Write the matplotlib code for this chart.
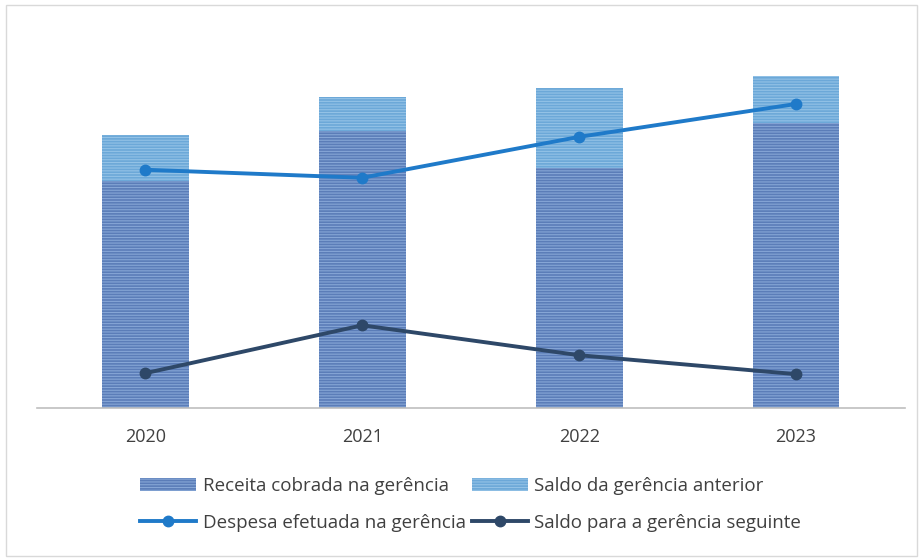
import matplotlib
matplotlib.use("Agg")
import matplotlib.pyplot as plt
import numpy as np
from matplotlib.patches import Rectangle

plt.rcParams['font.family'] = ['Open Sans', 'DejaVu Sans']
plt.rcParams['hatch.linewidth'] = 0.8

years = ["2020", "2021", "2022", "2023"]
receita = [228, 278, 241, 286]
saldo_anterior = [46, 34, 80, 47]
despesa = [239, 231, 272, 305]
saldo_seguinte = [35, 83, 53, 34]

c_receita = "#5B7DB8"
c_anterior = "#6CA8D8"
c_despesa = "#1F7AC9"
c_seguinte = "#2E4868"

fig = plt.figure(figsize=(9.23, 5.59), dpi=100)
ax = fig.add_axes([0.040, 0.270, 0.940, 0.660])
x = np.arange(len(years))
w = 0.40
b1 = ax.bar(x, receita, width=w, color=c_receita, edgecolor="#86A6D6", hatch="------", linewidth=0,
            label="Receita cobrada na gerência", zorder=2)
b2 = ax.bar(x, saldo_anterior, bottom=receita, width=w, color=c_anterior, edgecolor="#93C2E6",
            hatch="------", linewidth=0, label="Saldo da gerência anterior", zorder=2)
l1, = ax.plot(x, despesa, color=c_despesa, lw=2.8, marker="o", ms=7.5,
              label="Despesa efetuada na gerência", zorder=3)
l2, = ax.plot(x, saldo_seguinte, color=c_seguinte, lw=2.8, marker="o", ms=7.5,
              label="Saldo para a gerência seguinte", zorder=3)

ax.set_xlim(-0.5, 3.5)
ax.set_ylim(0, 370)
ax.set_xticks(x)
ax.set_xticklabels(years, fontsize=13, color="#404040")
ax.tick_params(axis="x", length=0, pad=14)
ax.set_yticks([])
for s in ["top", "right", "left"]:
    ax.spines[s].set_visible(False)
ax.spines["bottom"].set_color("#BFBFBF")
ax.spines["bottom"].set_linewidth(1.2)

handles = [b1, l1, b2, l2]  # column-wise fill: col1 = receita, despesa; col2 = anterior, seguinte
labels = [hh.get_label() for hh in handles]
leg = fig.legend(handles, labels, loc="center",
                 bbox_to_anchor=(0.51, 0.098), ncol=2, frameon=False, fontsize=13.5,
                 handlelength=3.0, handletextpad=0.35, columnspacing=0.3, labelspacing=1.0)
for t in leg.get_texts():
    t.set_color("#404040")

fig.patches.append(Rectangle((0.006, 0.006), 0.988, 0.985, transform=fig.transFigure,
                             fill=False, edgecolor="#D9D9D9", lw=1))
fig.savefig("out.png", dpi=100)
